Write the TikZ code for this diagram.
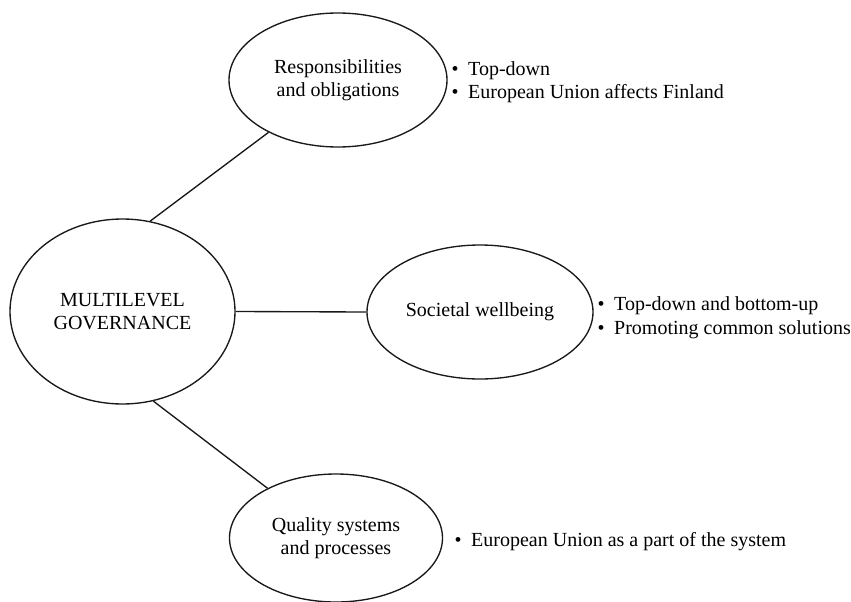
\documentclass[tikz,border=0pt]{standalone}
\usepackage{fontspec}
\setmainfont{Liberation Serif}
\usetikzlibrary{shapes.geometric}
\begin{document}
\begin{tikzpicture}[x=1pt,y=-1pt,
  bubble/.style={ellipse, draw=black!90, line width=1.35pt, inner sep=0pt,
    align=center, font=\fontsize{20}{23.5}\selectfont},
  link/.style={draw=black!90, line width=1.35pt},
  point/.style={anchor=base west, inner sep=0pt, font=\fontsize{20}{24}\selectfont}]
\newcommand{\bulletitem}[1]{\makebox[16.5pt][l]{\textbullet}#1}
\useasboundingbox (0,0) rectangle (851,602);

% central topic
\node[bubble, minimum width=225pt, minimum height=185pt] (mlg) at (122.5,311.5)
  {MULTILEVEL\\GOVERNANCE};

% three dimensions
\node[bubble, minimum width=218pt, minimum height=134pt] (resp) at (338,80)
  {Responsibilities\\and obligations};
\node[bubble, minimum width=226pt, minimum height=134pt] (soc) at (480,312)
  {Societal wellbeing};
\node[bubble, minimum width=213pt, minimum height=128pt] (qual) at (336,538)
  {Quality systems\\and processes};

% connectors
\draw[link] (mlg.73) -- (resp.217.4);
\draw[link] (mlg.east) -- (soc.west);
\draw[link] (mlg.-71.5) -- (qual.144.3);

% bullet notes
\node[point] (r1) at (451.5,75) {\bulletitem{Top-down}};
\node[point] (r2) at (451.5,99) {\bulletitem{European Union affects Finland}};
\node[point] (s1) at (597.5,310) {\bulletitem{Top-down and bottom-up}};
\node[point] (s2) at (597.5,334) {\bulletitem{Promoting common solutions}};
\node[point] (q1) at (454.5,546) {\bulletitem{European Union as a part of the system}};
\end{tikzpicture}
\end{document}
